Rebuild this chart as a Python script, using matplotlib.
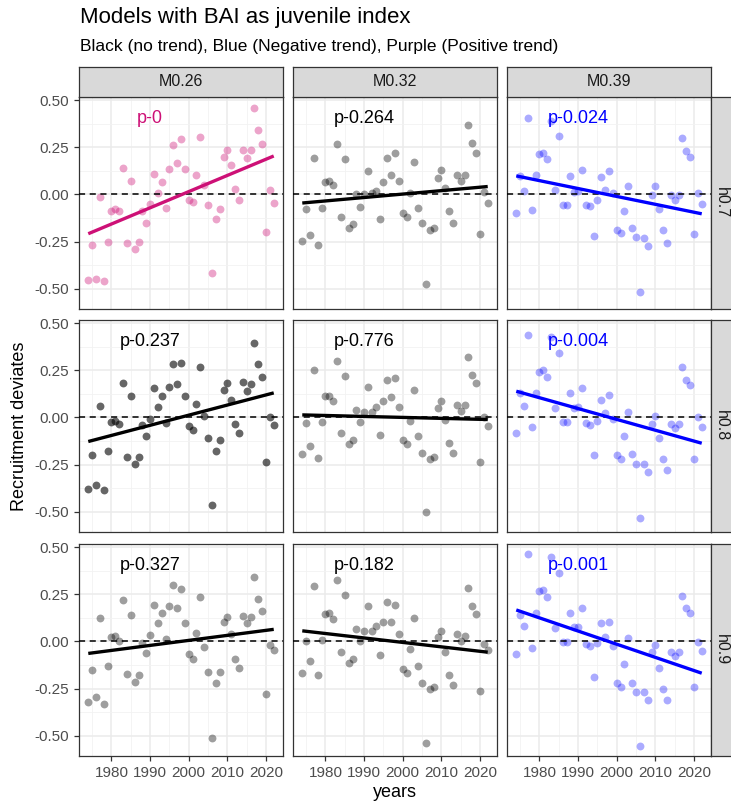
import numpy as np
import matplotlib.pyplot as plt

plt.rcParams['font.family'] = ['Liberation Sans', 'DejaVu Sans']

W, H = 731, 805

years = np.arange(1974, 2023)
col_labels = ['M0.26', 'M0.32', 'M0.39']
row_labels = ['h0.7', 'h0.8', 'h0.9']

# recruitment deviates, one list per panel
h07_m026 = [-0.455, -0.267, -0.448, -0.016, -0.46, -0.25, -0.087, -0.079, -0.087, 0.142,
            -0.257, 0.072, -0.29, -0.253, -0.087, -0.15, -0.052, 0.108, 0.005, 0.065,
            -0.072, 0.133, 0.264, 0.168, 0.295, 0.133, -0.028, -0.042, 0.103, 0.302,
            0.052, -0.056, -0.414, -0.131, -0.077, 0.196, 0.236, 0.154, 0.028, -0.031,
            0.236, 0.194, 0.233, 0.46, 0.343, 0.269, -0.198, 0.023, -0.044]
h07_m032 = [-0.247, -0.079, -0.215, 0.194, -0.267, -0.073, 0.065, 0.073, 0.049, 0.266,
            -0.119, 0.187, -0.177, -0.157, 0.003, -0.068, 0.0, 0.124, 0.005, 0.019,
            -0.128, 0.066, 0.192, 0.105, 0.222, 0.073, -0.10, -0.122, 0.007, 0.17,
            -0.07, -0.15, -0.476, -0.191, -0.18, 0.087, 0.131, 0.035, -0.087, -0.154,
            0.105, 0.073, 0.105, 0.367, 0.271, 0.219, -0.212, 0.014, -0.047]
h07_m039 = [-0.10, 0.098, 0.019, 0.406, -0.08, 0.101, 0.213, 0.219, 0.185, 0.39,
            0.021, 0.311, -0.056, -0.056, 0.096, 0.012, 0.017, 0.128, -0.056, -0.061,
            -0.222, -0.03, 0.091, 0.024, 0.126, 0.009, -0.187, -0.205, -0.087, 0.044,
            -0.178, -0.224, -0.516, -0.231, -0.271, -0.005, 0.042, -0.079, -0.191, -0.257,
            -0.005, -0.031, -0.005, 0.297, 0.229, 0.196, -0.21, 0.009, -0.052]
h08_m026 = [-0.38, -0.20, -0.36, 0.063, -0.384, -0.18, -0.024, -0.019, -0.036, 0.182,
            -0.21, 0.111, -0.247, -0.212, -0.042, -0.10, -0.007, 0.155, 0.054, 0.113,
            -0.03, 0.163, 0.283, 0.175, 0.286, 0.116, -0.045, -0.066, 0.073, 0.267,
            0.01, -0.111, -0.464, -0.179, -0.12, 0.146, 0.18, 0.094, -0.035, -0.085,
            0.186, 0.141, 0.177, 0.396, 0.281, 0.212, -0.234, 0.002, -0.042]
h08_m032 = [-0.196, -0.03, -0.149, 0.25, -0.214, -0.024, 0.111, 0.116, 0.087, 0.30,
            -0.082, 0.22, -0.139, -0.12, 0.04, -0.026, 0.031, 0.161, 0.031, 0.054,
            -0.094, 0.089, 0.20, 0.106, 0.208, 0.057, -0.12, -0.142, -0.017, 0.144,
            -0.099, -0.186, -0.503, -0.22, -0.21, 0.052, 0.087, -0.016, -0.134, -0.189,
            0.068, 0.036, 0.066, 0.319, 0.226, 0.181, -0.234, 0.0, -0.043]
h08_m039 = [-0.08, 0.127, 0.061, 0.439, -0.05, 0.128, 0.243, 0.252, 0.214, 0.427,
            0.05, 0.339, -0.024, -0.023, 0.128, 0.049, 0.057, 0.156, -0.03, -0.038,
            -0.20, -0.017, 0.094, 0.023, 0.118, -0.01, -0.201, -0.22, -0.101, 0.031,
            -0.196, -0.245, -0.531, -0.245, -0.29, -0.033, 0.01, -0.108, -0.22, -0.281,
            -0.033, -0.054, -0.033, 0.266, 0.20, 0.17, -0.222, 0.002, -0.05]
h09_m026 = [-0.321, -0.149, -0.295, 0.123, -0.332, -0.128, 0.025, 0.03, 0.002, 0.219,
            -0.175, 0.142, -0.214, -0.179, -0.01, -0.063, 0.033, 0.193, 0.095, 0.149,
            0.011, 0.189, 0.298, 0.175, 0.279, 0.096, -0.068, -0.095, 0.042, 0.235,
            -0.032, -0.161, -0.514, -0.221, -0.161, 0.104, 0.128, 0.039, -0.093, -0.14,
            0.137, 0.095, 0.128, 0.342, 0.226, 0.161, -0.277, -0.018, -0.044]
h09_m032 = [-0.167, 0.002, -0.102, 0.293, -0.179, 0.007, 0.144, 0.149, 0.119, 0.326,
            -0.058, 0.246, -0.114, -0.095, 0.068, 0.002, 0.056, 0.189, 0.053, 0.081,
            -0.074, 0.104, 0.209, 0.102, 0.195, 0.037, -0.146, -0.167, -0.039, 0.123,
            -0.128, -0.218, -0.539, -0.251, -0.24, 0.023, 0.053, -0.054, -0.177, -0.23,
            0.037, 0.004, 0.03, 0.282, 0.188, 0.147, -0.261, -0.012, -0.044]
h09_m039 = [-0.067, 0.142, 0.084, 0.465, -0.033, 0.149, 0.267, 0.274, 0.235, 0.449,
            0.07, 0.365, -0.002, -0.002, 0.153, 0.074, 0.077, 0.175, -0.016, -0.025,
            -0.189, -0.011, 0.096, 0.021, 0.105, -0.023, -0.219, -0.24, -0.118, 0.018,
            -0.218, -0.27, -0.556, -0.27, -0.312, -0.054, -0.019, -0.14, -0.254, -0.311,
            -0.054, -0.077, -0.058, 0.242, 0.177, 0.151, -0.242, -0.002, -0.049]

devs = [[h07_m026, h07_m032, h07_m039],
        [h08_m026, h08_m032, h08_m039],
        [h09_m026, h09_m032, h09_m039]]

p_labels = [['p-0', 'p-0.264', 'p-0.024'],
            ['p-0.237', 'p-0.776', 'p-0.004'],
            ['p-0.327', 'p-0.182', 'p-0.001']]
trends = [['pos', 'none', 'neg'],
          ['none', 'none', 'neg'],
          ['none', 'none', 'neg']]

trend_col = {'pos': '#CD1076', 'none': 'black', 'neg': '#0000FF'}
pt_alpha = [[0.38, 0.38, 0.33],
            [0.6, 0.38, 0.33],
            [0.38, 0.38, 0.33]]

# ggplot-like limits (5% expansion)
all_y = np.concatenate([np.array(v) for r in devs for v in r])
ypad = 0.05 * (all_y.max() - all_y.min())
ylim = (all_y.min() - ypad, all_y.max() + ypad)
xpad = 0.05 * (years.max() - years.min())
xlim = (years.min() - xpad, years.max() + xpad)

col_x = [79, 293, 507]
row_y = [97, 320, 544]
pw, ph = 204, 212


def box(x0, y0, w, h):
    return [x0 / W, 1 - (y0 + h) / H, w / W, h / H]


fig = plt.figure(figsize=(W / 100, H / 100), dpi=100)

for i in range(3):
    for j in range(3):
        ax = fig.add_axes(box(col_x[j], row_y[i], pw, ph))
        y = np.array(devs[i][j])
        c = trend_col[trends[i][j]]
        ax.set_xlim(xlim)
        ax.set_ylim(ylim)
        ax.set_xticks([1980, 1990, 2000, 2010, 2020])
        ax.set_xticks([1975, 1985, 1995, 2005, 2015], minor=True)
        ax.set_yticks([-0.5, -0.25, 0, 0.25, 0.5])
        ax.set_yticks([-0.375, -0.125, 0.125, 0.375], minor=True)
        ax.grid(which='major', color='#EBEBEB', lw=1.1, zorder=0)
        ax.grid(which='minor', color='#F2F2F2', lw=0.6, zorder=0)
        ax.set_axisbelow(True)
        ax.scatter(years, y, s=32, color=c, alpha=pt_alpha[i][j], lw=0, zorder=2)
        ax.axhline(0, color='black', ls=(0, (4, 3)), lw=1.1, zorder=3)
        b, a = np.polyfit(years, y, 1)
        ax.plot(years[[0, -1]], a + b * years[[0, -1]], color=c, lw=2.4, zorder=4,
                solid_capstyle='butt')
        ax.text(1990, 0.4, p_labels[i][j], color=c, fontsize=13, ha='center', va='center',
                zorder=5)
        for s in ax.spines.values():
            s.set_color('#333333')
            s.set_linewidth(0.9)
        ax.tick_params(which='both', color='#333333', labelcolor='#4D4D4D', labelsize=11,
                       length=3.5, width=0.9)
        ax.tick_params(which='minor', length=0)
        if j == 0:
            ax.set_yticklabels(['-0.50', '-0.25', '0.00', '0.25', '0.50'])
        else:
            ax.tick_params(axis='y', which='both', length=0, labelleft=False)
        if i < 2:
            ax.tick_params(axis='x', which='both', length=0, labelbottom=False)

# facet strips
for j in range(3):
    sa = fig.add_axes(box(col_x[j], 67, pw, 30))
    sa.set_facecolor('#D9D9D9')
    sa.set_xticks([])
    sa.set_yticks([])
    for s in sa.spines.values():
        s.set_color('#333333')
        s.set_linewidth(0.9)
    sa.text(0.5, 0.5, col_labels[j], transform=sa.transAxes, ha='center', va='center',
            fontsize=11.5, color='#1A1A1A')
for i in range(3):
    sa = fig.add_axes(box(711, row_y[i], 30, ph))
    sa.set_facecolor('#D9D9D9')
    sa.set_xticks([])
    sa.set_yticks([])
    for s in sa.spines.values():
        s.set_color('#333333')
        s.set_linewidth(0.9)
    sa.text(0.36, 0.5, row_labels[i], transform=sa.transAxes, ha='center', va='center',
            rotation=-90, fontsize=11.5, color='#1A1A1A')

fig.text(80 / W, 1 - 18 / H, 'Models with BAI as juvenile index', fontsize=16,
         ha='left', va='center', color='black')
fig.text(80 / W, 1 - 47 / H,
         'Black (no trend), Blue (Negative trend), Purple (Positive trend)',
         fontsize=12.5, ha='left', va='center', color='black')
fig.text(395 / W, 1 - 792 / H, 'years', fontsize=13, ha='center', va='center')
fig.text(20 / W, 1 - 426 / H, 'Recruitment deviates', fontsize=13, ha='center',
         va='center', rotation=90)

fig.savefig('out.png', dpi=100)
